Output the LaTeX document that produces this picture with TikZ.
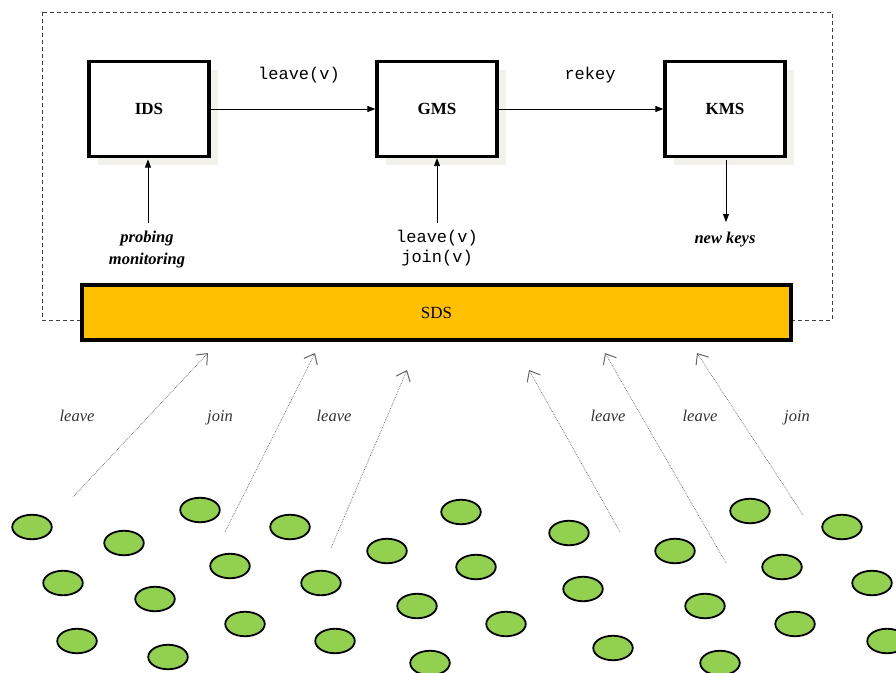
\documentclass[tikz,border=0pt]{standalone}
\usepackage{fontspec}
\setmainfont{Liberation Serif}
\setmonofont{Liberation Mono}
\usetikzlibrary{arrows.meta,shadows,shapes.geometric}
\definecolor{leaf}{HTML}{92D050}
\definecolor{sdsorange}{HTML}{FFC000}
\definecolor{shadowbeige}{HTML}{F3F1EC}
\definecolor{labelgray}{HTML}{333333}
\tikzset{
  compbox/.style={draw=black, line width=3.2pt, fill=white, minimum width=120pt, minimum height=95pt,
    font=\fontsize{17}{19}\selectfont\bfseries,
    drop shadow={shadow xshift=9pt, shadow yshift=-8pt, fill=shadowbeige, opacity=1}},
  sdsbar/.style={draw=black, line width=4pt, fill=sdsorange, minimum width=709pt, minimum height=55pt,
    font=\fontsize{17}{19}\selectfont},
  leafnode/.style={draw=black, line width=1.8pt, fill=leaf, ellipse, minimum width=39.5pt, minimum height=24.5pt, inner sep=0pt},
  flow/.style={-{Triangle[length=8pt,width=6pt]}, line width=0.8pt, black},
  monolbl/.style={font=\fontsize{17}{19}\selectfont\ttfamily, inner sep=0pt},
  bilbl/.style={font=\fontsize{16.5}{22}\selectfont\bfseries\itshape, align=center, inner sep=0pt},
  evlbl/.style={font=\fontsize{16.5}{18}\selectfont\itshape, text=labelgray, inner sep=0pt, anchor=base},
  msg/.style={densely dotted, line width=0.7pt, draw=black!60, -{Straight Barb[length=9pt,width=15pt,line width=1pt]}},
}
\begin{document}
\begin{tikzpicture}[x=1pt,y=-1pt]
\useasboundingbox (0,0) rectangle (896,672);
% dashed frame
\draw[dashed, dash pattern=on 4pt off 3pt, line width=0.8pt, draw=black!75] (42,12) rectangle (832,320);
% components
\node[compbox] (IDS) at (149,109) {IDS};
\node[compbox] (GMS) at (437,109) {GMS};
\node[compbox] (KMS) at (725,109) {KMS};
\draw[flow] (IDS.east) -- (GMS.west);
\draw[flow] (GMS.east) -- (KMS.west);
\node[monolbl] (lv) at (299,75) {leave(v)};
\node[monolbl] (rk) at (590,75) {rekey};
% inputs
\coordinate (pin) at (148,223);
\draw[flow] (pin) -- (148,159.5);
\node[bilbl] (probe) at (147,250) {probing\\monitoring};
\coordinate (gin) at (437,223);
\draw[flow] (gin) -- (GMS.south);
\node[monolbl, align=center, font=\fontsize{17}{20}\selectfont\ttfamily] (lj) at (437,248) {leave(v)\\join(v)};
\coordinate (kout) at (726,222);
\draw[flow] (726,159.5) -- (kout);
\node[bilbl] (nk) at (725,240) {new keys};
% SDS
\node[sdsbar] (SDS) at (436.5,312.5) {SDS};
% member messages
\coordinate (s1) at (73,497);  \coordinate (t1) at (208,353);
\coordinate (s2) at (225,532); \coordinate (t2) at (315,353);
\coordinate (s3) at (331,548); \coordinate (t3) at (407,370);
\coordinate (s4) at (620,532); \coordinate (t4) at (529,370);
\coordinate (s5) at (726,563); \coordinate (t5) at (605,353);
\coordinate (s6) at (803,515); \coordinate (t6) at (697,353);
\foreach \i in {1,...,6} { \draw[msg] (s\i) -- (t\i); }
\node[evlbl] (l1) at (77,421) {leave};
\node[evlbl] (l2) at (220,421) {join};
\node[evlbl] (l3) at (334,421) {leave};
\node[evlbl] (l4) at (608,421) {leave};
\node[evlbl] (l5) at (700,421) {leave};
\node[evlbl] (l6) at (797,421) {join};
% members
\foreach \n/\x/\y in {e1/32/527, e2/200/510, e3/124/543, e4/290/527, e5/63/583, e6/230/566,
  e7/387/551, e8/155/599, e9/321/583, e10/77/641, e11/245/624, e12/417/606, e13/168/657,
  e14/335/641, e15/430/663, e16/461/512, e17/569/533, e18/476/567, e19/583/589, e20/506/624,
  e21/613/648, e22/675/551, e23/750/511, e24/705/606, e25/782/567, e26/842/527, e27/720/663,
  e28/795/624, e29/872/583, e30/887/641}
  { \node[leafnode] (\n) at (\x,\y) {}; }
\end{tikzpicture}
\end{document}
